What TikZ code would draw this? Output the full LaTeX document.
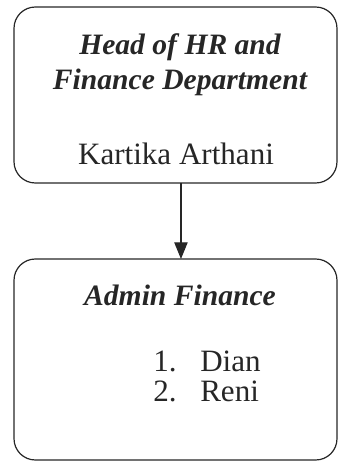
\documentclass[tikz,border=0pt]{standalone}
\usepackage{fontspec}
\setmainfont{Liberation Serif}
\usetikzlibrary{arrows.meta}
\tikzset{
  unitbox/.style={draw=black!85, line width=0.9pt, rounded corners=16pt, inner sep=0pt, outer sep=0pt},
  unittitle/.style={anchor=base, inner sep=0pt, text=black!85, font=\fontsize{22.2}{26}\selectfont\bfseries\itshape},
  staffname/.style={anchor=base, inner sep=0pt, text=black!85, font=\fontsize{23.3}{26}\selectfont},
  listitem/.style={anchor=base west, inner sep=0pt, text=black!85, font=\fontsize{23.3}{26}\selectfont},
}
\begin{document}
\begin{tikzpicture}[x=0.75pt,y=0.75pt]
  \pgfmathsetmacro{\midX}{180}
  \useasboundingbox (0,0) rectangle (338,461);
  %% Unit boxes
  \node[unitbox, minimum width=242.25pt, minimum height=132pt] (head) at (175.5,366) {};
  \node[unitbox, minimum width=242.25pt, minimum height=150.75pt] (admin) at (175.5,101.5) {};
  %% Head of HR and Finance
  \node[unittitle] (headtitle1) at (\midX,406) {Head of HR and};
  \node[unittitle] (headtitle2) at (\midX,371) {Finance Department};
  \node[staffname] (headname) at (176,296) {Kartika Arthani};
  %% Admin Finance
  \node[unittitle] (admintitle) at (\midX,155) {Admin Finance};
  \node[listitem] (num1) at (153,89) {1.};
  \node[listitem] (dian) at (200,89) {Dian};
  \node[listitem] (num2) at (153,59) {2.};
  \node[listitem] (reni) at (200,59) {Reni};
  %% Line of command
  \draw[black!85, line width=0.9pt, -{Triangle[length=12.5pt,width=10pt]}]
    ([xshift=4.1pt]head.south) -- ([xshift=4.1pt]admin.north);
\end{tikzpicture}
\end{document}
